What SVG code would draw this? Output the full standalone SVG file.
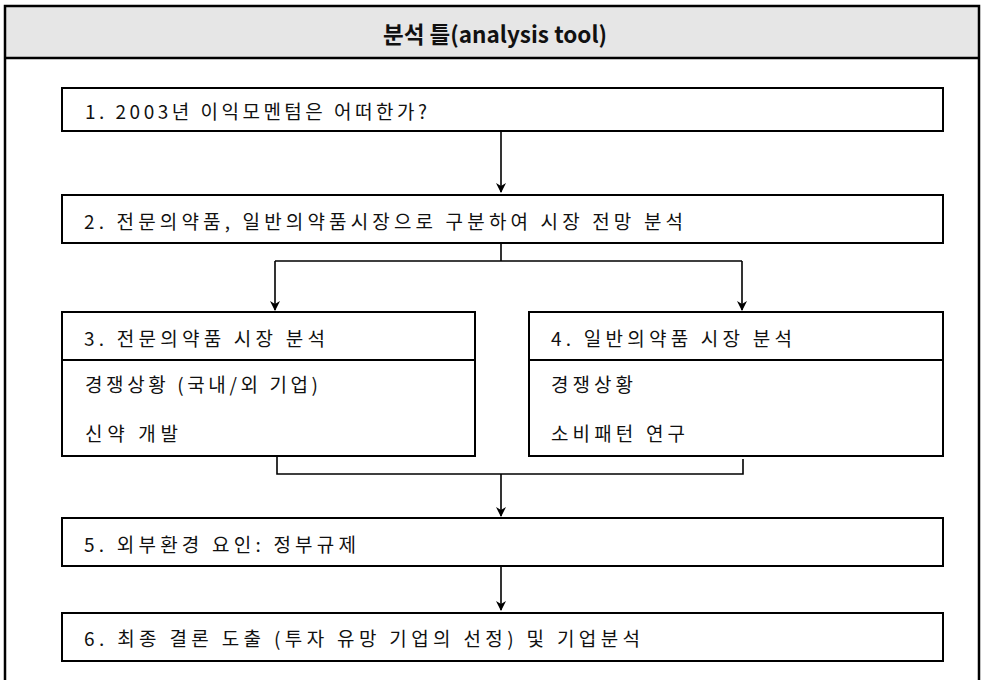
<svg xmlns="http://www.w3.org/2000/svg" width="981" height="680" viewBox="0 0 981 680">
<style>
.box{fill:#fff;stroke:#000;stroke-width:2}
.t{font-family:"Noto Sans CJK KR","Noto Sans",sans-serif;font-size:19px;fill:#111}
.ttl{font-family:"Noto Sans CJK KR","Liberation Sans",sans-serif;font-size:23px;font-weight:bold;fill:#111}
.ln{fill:none;stroke:#000;stroke-width:1.6}
</style>
<defs>
<marker id="ah" markerWidth="10" markerHeight="12" refX="9" refY="5" orient="auto" markerUnits="userSpaceOnUse">
<path d="M0,0 L10,5 L0,10 L3,5 Z" fill="#000"/>
</marker>
</defs>
<rect x="0" y="0" width="981" height="680" fill="#fff"/>
<g id="frame">
<rect x="5" y="6" width="974" height="52" fill="#e6e6e6"/>
<path d="M5,690 L5,6 L979,6 L979,690" fill="none" stroke="#000" stroke-width="2.5"/>
<line x1="5" y1="58" x2="979" y2="58" stroke="#000" stroke-width="2.5"/>
<text class="ttl" x="383" y="43" textLength="224" lengthAdjust="spacingAndGlyphs">분석 틀(analysis tool)</text>
</g>
<g id="n1">
<rect class="box" x="62" y="88" width="881" height="43"/>
<text class="t" x="85" y="119" textLength="342" lengthAdjust="spacing">1. 2003년 이익모멘텀은 어떠한가?</text>
</g>
<g id="n2">
<rect class="box" x="62" y="195" width="881" height="48"/>
<text class="t" x="84" y="229" textLength="599" lengthAdjust="spacing">2. 전문의약품, 일반의약품시장으로 구분하여 시장 전망 분석</text>
</g>
<g id="n3">
<rect class="box" x="62" y="312" width="413" height="144"/>
<line x1="62" y1="360" x2="475" y2="360" stroke="#000" stroke-width="2"/>
<text class="t" x="84" y="346" textLength="241" lengthAdjust="spacing">3. 전문의약품 시장 분석</text>
<text class="t" x="85" y="392" textLength="233" lengthAdjust="spacing">경쟁상황 (국내/외 기업)</text>
<text class="t" x="85" y="441" textLength="93" lengthAdjust="spacing">신약 개발</text>
</g>
<g id="n4">
<rect class="box" x="529" y="312" width="414" height="144"/>
<line x1="529" y1="360" x2="943" y2="360" stroke="#000" stroke-width="2"/>
<text class="t" x="551" y="346" textLength="241" lengthAdjust="spacing">4. 일반의약품 시장 분석</text>
<text class="t" x="551" y="392" textLength="82" lengthAdjust="spacing">경쟁상황</text>
<text class="t" x="551" y="441" textLength="134" lengthAdjust="spacing">소비패턴 연구</text>
</g>
<g id="n5">
<rect class="box" x="62" y="518" width="881" height="48"/>
<text class="t" x="84" y="552" textLength="272" lengthAdjust="spacing">5. 외부환경 요인: 정부규제</text>
</g>
<g id="n6">
<rect class="box" x="62" y="613" width="881" height="48"/>
<text class="t" x="84" y="646" textLength="556" lengthAdjust="spacing">6. 최종 결론 도출 (투자 유망 기업의 선정) 및 기업분석</text>
</g>
<g id="connectors">
<line class="ln" x1="501" y1="132" x2="501" y2="192" marker-end="url(#ah)"/>
<path class="ln" d="M501,244 L501,261 M275,261 L742,261"/>
<line class="ln" x1="275" y1="261" x2="275" y2="310" marker-end="url(#ah)"/>
<line class="ln" x1="742" y1="261" x2="742" y2="310" marker-end="url(#ah)"/>
<path class="ln" d="M277,457 L277,474 L743,474 L743,459"/>
<line class="ln" x1="501" y1="474" x2="501" y2="516" marker-end="url(#ah)"/>
<line class="ln" x1="501" y1="567" x2="501" y2="610" marker-end="url(#ah)"/>
</g>
</svg>
